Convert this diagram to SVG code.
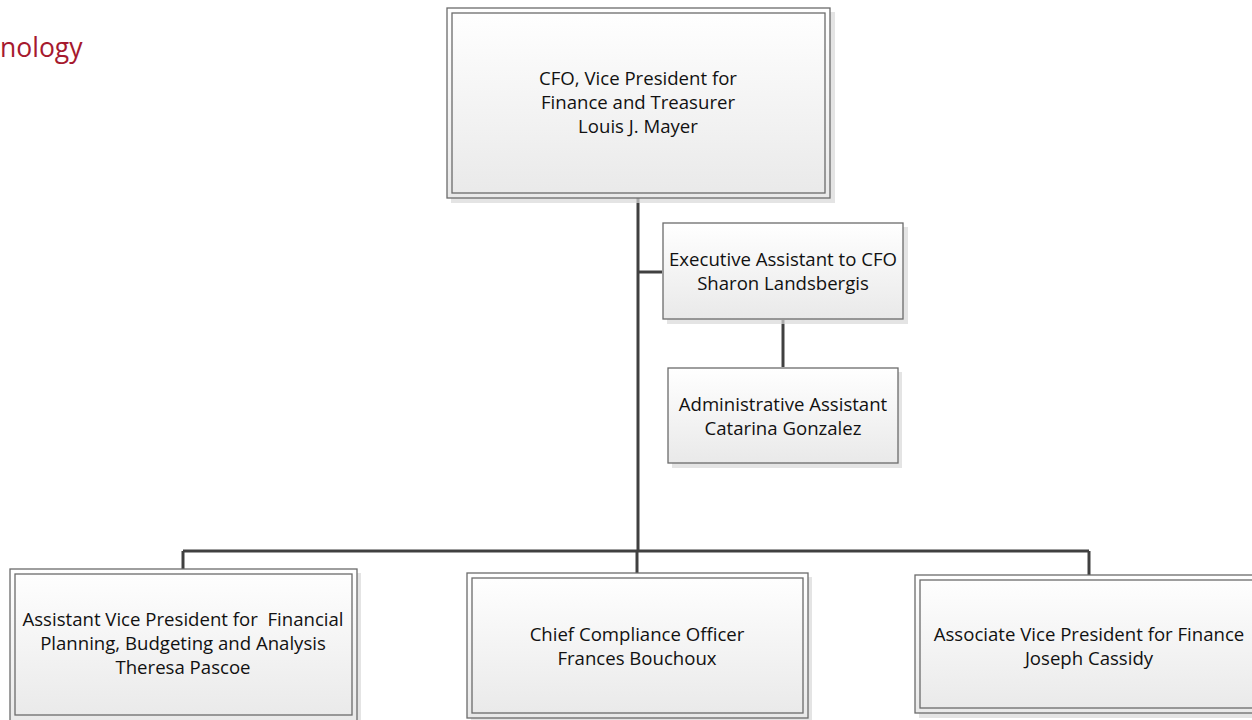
<svg xmlns="http://www.w3.org/2000/svg" width="1252" height="720" viewBox="0 0 1252 720">
<defs>
<linearGradient id="g" x1="0" y1="0" x2="0" y2="1">
<stop offset="0" stop-color="#ffffff"/>
<stop offset="1" stop-color="#e9e9e9"/>
</linearGradient>
<style>
.sh{fill:#d9d9d9;opacity:0.7}
.o{fill:url(#g);stroke:#6b6b6b;stroke-width:1.3}
.i{fill:none;stroke:#6b6b6b;stroke-width:1.3}
.t{font-family:"Open Sans","Liberation Sans",sans-serif;font-size:18.6px;fill:#111;text-anchor:middle;white-space:pre}
.c{fill:none;stroke:#404040;stroke-width:3}
</style>
</defs>
<rect width="1252" height="720" fill="#ffffff"/>
<text x="0" y="57" font-family="Open Sans, Liberation Sans, sans-serif" font-size="26.5" fill="#a6192e">nology</text>
<g id="connectors">
<path class="c" d="M638 198V551"/>
<path class="c" d="M638 272H662"/>
<path class="c" d="M783 320V367"/>
<path class="c" d="M183 551H1089"/>
<path class="c" d="M183 551V569"/>
<path class="c" d="M637 551V573"/>
<path class="c" d="M1089 551V575"/>
</g>
<g id="cfo">
<rect class="sh" x="451" y="12" width="384" height="191"/>
<rect class="o" x="447" y="8" width="383" height="190"/>
<rect class="i" x="452" y="13" width="373" height="180"/>
<text class="t" x="638" y="85">CFO, Vice President for</text>
<text class="t" x="638" y="109">Finance and Treasurer</text>
<text class="t" x="638" y="133">Louis J. Mayer</text>
</g>
<g id="exec">
<rect class="sh" x="667" y="227" width="241" height="97"/>
<rect class="o" x="663" y="223" width="240" height="96"/>
<text class="t" x="783" y="266">Executive Assistant to CFO</text>
<text class="t" x="783" y="290">Sharon Landsbergis</text>
</g>
<g id="admin">
<rect class="sh" x="672" y="372" width="230" height="96"/>
<rect class="o" x="668" y="368" width="230" height="95"/>
<text class="t" x="783" y="411">Administrative Assistant</text>
<text class="t" x="783" y="435">Catarina Gonzalez</text>
</g>
<g id="avp-fpba">
<rect class="sh" x="14" y="573" width="347" height="152"/>
<rect class="o" x="10" y="569" width="347" height="152"/>
<rect class="i" x="15" y="574" width="337" height="141"/>
<text class="t" x="183" y="626" xml:space="preserve">Assistant Vice President for  Financial</text>
<text class="t" x="183" y="650">Planning, Budgeting and Analysis</text>
<text class="t" x="183" y="674">Theresa Pascoe</text>
</g>
<g id="cco">
<rect class="sh" x="471" y="577" width="341" height="146"/>
<rect class="o" x="467" y="573" width="341" height="145"/>
<rect class="i" x="472" y="578" width="331" height="135"/>
<text class="t" x="637" y="641">Chief Compliance Officer</text>
<text class="t" x="637" y="665">Frances Bouchoux</text>
</g>
<g id="avp-finance">
<rect class="sh" x="919" y="579" width="340" height="139"/>
<rect class="o" x="915" y="575" width="345" height="138"/>
<rect class="i" x="920" y="580" width="340" height="128"/>
<text class="t" x="1089" y="641">Associate Vice President for Finance</text>
<text class="t" x="1089" y="665">Joseph Cassidy</text>
</g>
</svg>
